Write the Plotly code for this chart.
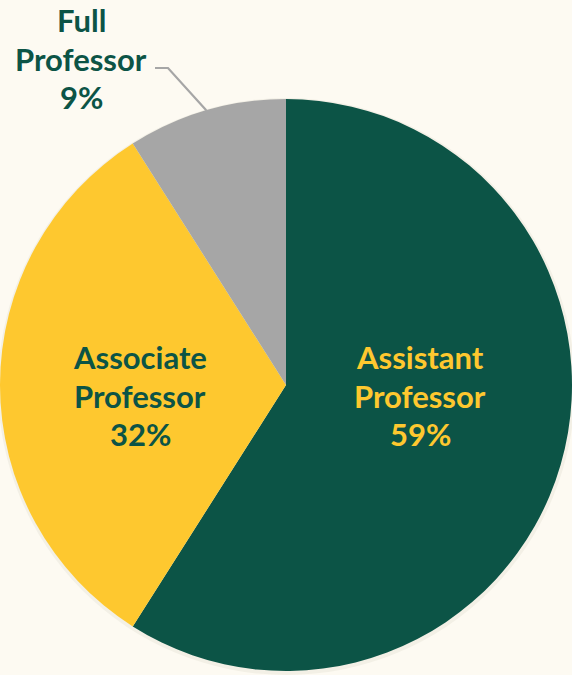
import math
import plotly.graph_objects as go

# ---- data ----
categories = ["Assistant Professor", "Associate Professor", "Full Professor"]
values = [59, 32, 9]
label_lines = [["Assistant", "Professor", "59%"],
               ["Associate", "Professor", "32%"],
               ["Full", "Professor", "9%"]]

# ---- styling ----
W, H = 572, 675
BG = "#fdfaf2"
GREEN = "#0c5446"
YELLOW = "#fec82f"
GRAY = "#a6a6a6"
slice_colors = [GREEN, YELLOW, GRAY]
text_colors = [YELLOW, GREEN, GREEN]
FONT = "Lato"
FS = 31
LINE_PITCH = 38.5

# pie geometry (pixels)
CX, CY, R = 286, 385, 286
# label centres (pixels, first line middle)
label_pos = [(420, 357), (140, 357), (81, 20)]


def px(x):
    return x / W


def py(y):
    return 1 - y / H


fig = go.Figure()
fig.add_trace(go.Pie(
    labels=categories,
    values=values,
    sort=False,
    direction="clockwise",
    rotation=0,
    marker=dict(colors=slice_colors, line=dict(width=0)),
    textinfo="none",
    hoverinfo="label+percent",
    showlegend=False,
    domain=dict(x=[0, 1], y=[py(CY + R), py(CY - R)]),
))

annotations = []
for lines, (lx, ly), col in zip(label_lines, label_pos, text_colors):
    for i, t in enumerate(lines):
        annotations.append(dict(
            x=px(lx), y=py(ly + i * LINE_PITCH), xref="paper", yref="paper",
            text=t, showarrow=False, xanchor="center", yanchor="middle",
            font=dict(family=FONT, size=FS, color=col, weight="bold"),
        ))

# leader line for the small slice, ending at the slice's mid-angle on the rim
total = sum(values)
mid_frac = (sum(values[:2]) + values[2] / 2) / total
ang = mid_frac * 2 * math.pi
ex = CX + R * math.sin(ang)
ey = CY - R * math.cos(ang)
shapes = [
    dict(type="circle", xref="paper", yref="paper", layer="below",
         x0=px(CX - R - 2), x1=px(CX + R + 3), y0=py(CY + R + 4), y1=py(CY - R - 1),
         fillcolor="rgba(120,110,90,0.07)", line=dict(width=0)),
    dict(type="path", xref="paper", yref="paper",
         path=f"M {px(155)} {py(68)} L {px(168)} {py(68)} L {px(ex)} {py(ey)}",
         line=dict(color=GRAY, width=2.2)),
]

fig.update_layout(
    width=W, height=H,
    margin=dict(l=0, r=0, t=0, b=0),
    paper_bgcolor=BG, plot_bgcolor=BG,
    annotations=annotations,
    shapes=shapes,
)

fig.write_html(
    "out.html",
    config={"displayModeBar": False},
    post_script=(
        "document.body.style.margin='0';"
        "document.body.style.overflow='hidden';"
        f"document.body.style.background='{BG}';"
    ),
)
